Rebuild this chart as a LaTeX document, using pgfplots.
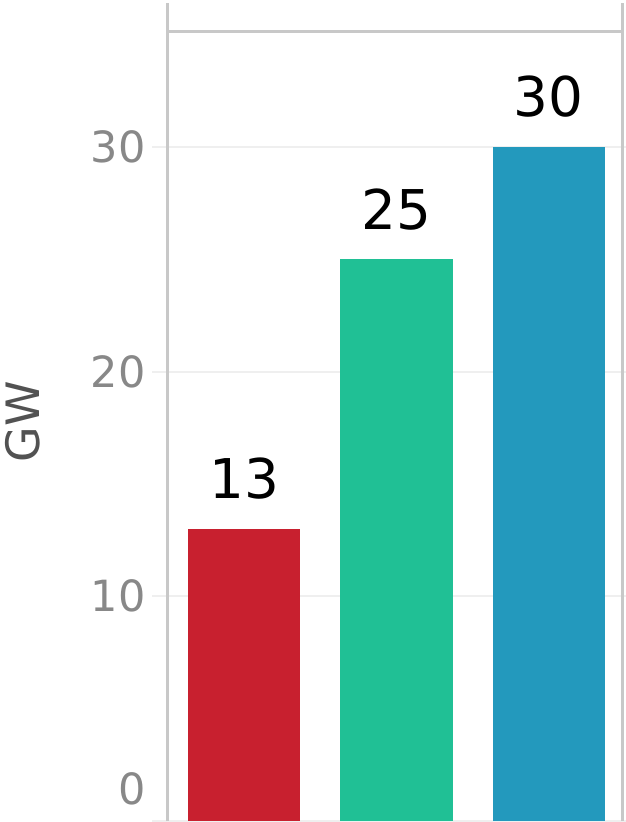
\documentclass[border=0pt]{standalone}
\usepackage{fontspec}
\setmainfont{DejaVu Sans}
\usepackage{pgfplots}
\pgfplotsset{compat=1.18}

\definecolor{barred}{HTML}{C8202F}
\definecolor{bargreen}{HTML}{20C095}
\definecolor{barblue}{HTML}{2399BD}
\definecolor{framegray}{HTML}{C8C8C8}
\definecolor{gridgray}{HTML}{EFEFEF}
\definecolor{tickgray}{HTML}{888888}

\begin{document}
\begin{tikzpicture}
\begin{axis}[
    name=ax,
    scale only axis,
    width=227.5pt, height=410.5pt,
    xmin=-0.5, xmax=2.487,
    ymin=0, ymax=36.54,
    ybar, bar shift=0pt, bar width=0.737,
    xtick=\empty,
    ytick={10,20,30},
    extra y ticks={0},
    extra y tick style={yticklabel style={yshift=16pt}},
    ymajorgrids,
    grid style={gridgray, line width=1pt},
    axis line style={draw=none},
    tick align=outside,
    major tick length=8pt,
    ytick style={gridgray, line width=1pt},
    /pgf/number format/assume math mode=true,
    yticklabel style={font=\fontsize{21.5}{24}\selectfont, text=tickgray, inner sep=0pt, xshift=-3pt},
    every axis y label/.style={at={(rel axis cs:0,0.486)}, xshift=-72.5pt, rotate=90, anchor=center,
        font=\fontsize{23}{25}\selectfont, text=black!68},
    ylabel={GW},
    nodes near coords,
    every node near coord/.append style={font=\fontsize{27.4}{30}\selectfont, black, inner sep=0pt, anchor=south, yshift=14.5pt},
    clip=false,
]
\addplot[fill=barred, draw=none] coordinates {(0,13)};
\addplot[fill=bargreen, draw=none] coordinates {(1,25)};
\addplot[fill=barblue, draw=none] coordinates {(2,30)};
\draw[framegray, line width=1.5pt] (axis cs:-0.5,0) -- (axis cs:-0.5,36.4);
\draw[framegray, line width=1.5pt] (axis cs:2.487,0) -- (axis cs:2.487,36.4);
\draw[framegray, line width=1.5pt] (axis cs:-0.5,35.16) -- (axis cs:2.487,35.16);
\end{axis}
\pgfresetboundingbox
\path ([shift={(-84pt,-0.5pt)}]ax.south west) rectangle ([shift={(1.5pt,0pt)}]ax.north east);
\end{tikzpicture}
\end{document}
